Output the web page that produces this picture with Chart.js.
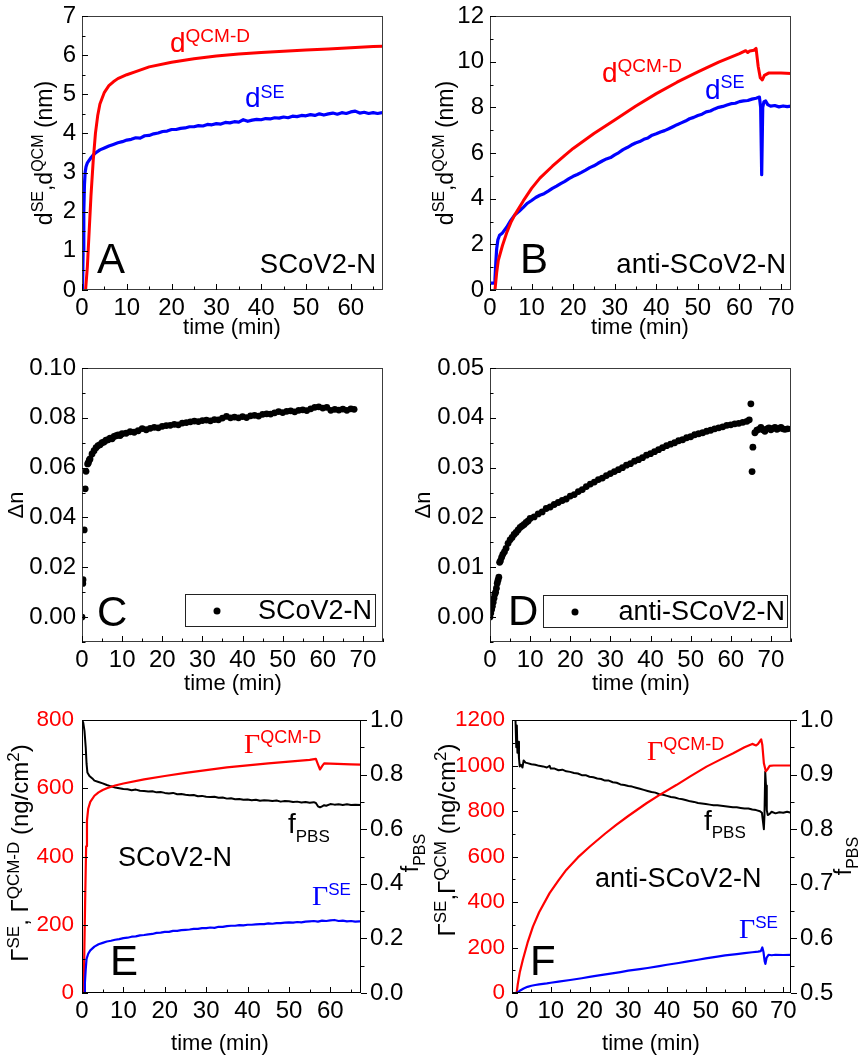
<!DOCTYPE html>
<html>
<head>
<meta charset="utf-8">
<title>Adsorption kinetics of SCoV2-N and anti-SCoV2-N</title>
<script src="https://cdn.jsdelivr.net/npm/chart.js@4.4.1/dist/chart.umd.min.js"></script>
<style>
  html, body { margin: 0; padding: 0; background: #fff; }
  body { width: 866px; height: 1061px; position: relative; overflow: hidden; }
  canvas { position: absolute; left: 0; top: 0; }
</style>
</head>
<body>
<canvas id="pA" width="866" height="1061"></canvas>
<canvas id="pB" width="866" height="1061"></canvas>
<canvas id="pC" width="866" height="1061"></canvas>
<canvas id="pD" width="866" height="1061"></canvas>
<canvas id="pE" width="866" height="1061"></canvas>
<canvas id="pF" width="866" height="1061"></canvas>
<script>
// ---------------- data ----------------
const sampleAntigen = 'SCoV2-N';
const sampleAntibody = 'anti-SCoV2-N';

// Panel A: layer thickness, SCoV2-N (nm vs min)
const tA_qcm = [0.8, 1.2, 1.6, 2.0, 2.5, 3.0, 3.5, 4.0, 5.0, 6.0, 7.0, 8.0, 10, 12, 15, 20, 25, 30, 35, 40, 45, 50, 55, 60, 65, 67.2];
const dA_qcm = [0, 0.6, 1.5, 2.4, 3.3, 4.0, 4.45, 4.75, 5.05, 5.22, 5.32, 5.40, 5.50, 5.58, 5.70, 5.82, 5.91, 5.98, 6.03, 6.07, 6.10, 6.13, 6.16, 6.19, 6.22, 6.23];
const tA_se = [0.1, 0.25, 0.4, 0.55, 0.7, 0.9, 1.2, 1.5, 2, 2.5, 3, 4, 5, 6, 7, 8, 9, 10,
  11, 12, 13, 14, 15, 16, 17, 18, 19, 20, 21, 22, 23, 24, 25, 26, 27, 28, 29, 30, 31, 32, 33, 34, 35, 36, 37, 38, 39,
  40, 41, 42, 43, 44, 45, 46, 47, 48, 49, 50, 51, 52, 53, 54, 55, 56, 57, 58, 59, 60, 61, 62, 63, 64, 65, 66, 67];
const dA_se = [0, 1.0, 2.0, 2.7, 3.0, 3.15, 3.25, 3.3, 3.38, 3.45, 3.5, 3.58, 3.63, 3.68, 3.72, 3.76, 3.79, 3.83,
  3.85, 3.89, 3.88, 3.94, 3.95, 3.99, 4.01, 4.05, 4.06, 4.10, 4.10, 4.13, 4.14, 4.17, 4.17, 4.20, 4.19, 4.23, 4.22, 4.25, 4.24, 4.28, 4.27, 4.30, 4.29, 4.35, 4.31, 4.34, 4.36,
  4.35, 4.38, 4.37, 4.40, 4.39, 4.42, 4.40, 4.44, 4.43, 4.46, 4.45, 4.48, 4.46, 4.50, 4.47, 4.50, 4.52, 4.49, 4.53, 4.51, 4.55, 4.57, 4.52, 4.54, 4.51, 4.53, 4.51, 4.53];

// Panel B: layer thickness, anti-SCoV2-N
const tB_qcm = [1.2, 1.6, 2, 3, 4, 5, 6, 8, 10, 12, 15, 18, 20, 25, 30, 35, 40, 45, 50, 55, 60, 61.5, 62, 62.5, 63.5, 64.0, 64.5, 65.0, 65.5, 66.0, 67, 70, 72.4];
const dB_qcm = [0, 0.75, 1.3, 1.95, 2.5, 2.95, 3.3, 3.9, 4.45, 4.9, 5.42, 5.9, 6.2, 6.85, 7.45, 8.05, 8.6, 9.1, 9.55, 9.98, 10.35, 10.48, 10.4, 10.47, 10.5, 10.58, 9.8, 9.3, 9.2, 9.4, 9.5, 9.5, 9.48];
const tB_se = [0, 1.0, 1.2, 1.4, 1.6, 1.9, 2.3, 3, 4, 5, 6, 7, 8, 9, 10,
  11, 12, 13, 14, 15, 16, 17, 18, 19, 20, 21, 22, 23, 24, 25, 26, 27, 28, 29, 30, 31, 32, 33, 34, 35, 36, 37,
  38, 39, 40, 41, 42, 43, 44, 45, 46, 47, 48, 49, 50, 51, 52, 53, 54, 55, 56, 57, 58, 59, 60, 61, 62, 63, 64,
  64.8, 65.1, 65.35, 65.6, 65.9, 66.3, 66.8, 67.5, 68.5, 69.5, 70.5, 71.5, 72.4];
const dB_se = [0.3, 0.3, 0.5, 1.2, 1.8, 2.2, 2.4, 2.5, 2.75, 3.05, 3.3, 3.45, 3.62, 3.8, 3.92,
  4.05, 4.15, 4.22, 4.33, 4.45, 4.55, 4.66, 4.76, 4.88, 4.98, 5.06, 5.15, 5.25, 5.36, 5.44, 5.55, 5.65, 5.74, 5.80, 5.92, 6.02, 6.15, 6.24, 6.35, 6.44, 6.50, 6.60,
  6.66, 6.78, 6.84, 6.92, 6.98, 7.06, 7.15, 7.24, 7.32, 7.40, 7.50, 7.56, 7.64, 7.70, 7.80, 7.84, 7.93, 8.00, 8.04, 8.10, 8.16, 8.18, 8.25, 8.28, 8.30, 8.36, 8.40,
  8.45, 8.0, 5.05, 8.0, 8.25, 8.28, 8.12, 8.05, 8.08, 8.02, 8.06, 8.03, 8.05];

// Panel C: refractive index increment, SCoV2-N
const tC = [0, 0.2, 0.25, 0.55, 0.8, 1.0, 1.4, 1.6, 1.8,
  2.0, 2.5, 3.0, 3.5, 4.0, 4.5, 5.0, 5.5, 6.0, 6.5, 7.0, 7.5, 8.0, 8.5, 9.0, 9.5,
  10, 11, 12, 13, 14, 15, 16, 17, 18, 19, 20, 21, 22, 23, 24, 25, 26, 27, 28, 29, 30, 31, 32, 33, 34, 35, 36, 37, 38, 39,
  40, 41, 42, 43, 44, 45, 46, 47, 48, 49, 50, 51, 52, 53, 54, 55, 56, 57, 58, 59, 60, 61, 62, 63, 64, 65, 66, 67, 67.8];
const nC = [0, 0.0135, 0.015, 0.035, 0.0515, 0.0585, 0.0615, 0.062, 0.063,
  0.0635, 0.0655, 0.0668, 0.0680, 0.0688, 0.0692, 0.0700, 0.0703, 0.0710, 0.0712, 0.0718, 0.0716, 0.0725, 0.0728, 0.0731, 0.0729,
  0.0736, 0.0738, 0.0744, 0.0742, 0.0748, 0.0757, 0.0752, 0.0758, 0.0762, 0.0760, 0.0766, 0.0769, 0.0770, 0.0774, 0.0772, 0.0779, 0.0781, 0.0784, 0.0787, 0.0785, 0.0789, 0.0791, 0.0788, 0.0793, 0.0792, 0.0799, 0.0806, 0.0800, 0.0803, 0.0800,
  0.0805, 0.0801, 0.0808, 0.0810, 0.0807, 0.0814, 0.0816, 0.0815, 0.0820, 0.0825, 0.0821, 0.0826, 0.0828, 0.0824, 0.0830, 0.0832, 0.0829, 0.0836, 0.0842, 0.0844, 0.0839, 0.0842, 0.0830, 0.0834, 0.0831, 0.0835, 0.0830, 0.0836, 0.0834];

// Panel D: refractive index increment, anti-SCoV2-N
const tD = [0, 0.2, 0.4, 0.6, 0.8, 1.0, 1.2, 1.4, 1.6, 1.8, 2.0, 2.2, 2.4, 2.6, 2.9, 3.2, 3.6, 4.0, 4.5, 5, 5.5, 6, 6.5, 7, 7.5, 8, 8.5, 9, 9.5, 10,
  11, 12, 13, 14, 15, 16, 17, 18, 19, 20, 21, 22, 23, 24, 25, 26, 27, 28, 29, 30, 31, 32, 33, 34, 35, 36, 37,
  38, 39, 40, 41, 42, 43, 44, 45, 46, 47, 48, 49, 50, 51, 52, 53, 54, 55, 56, 57, 58, 59, 60, 61, 62, 63, 64,
  64.6, 65.0, 65.3, 65.5, 66.0, 66.5, 67.0, 67.5, 68, 68.5, 69, 69.5, 70, 70.5, 71, 71.5, 72, 72.5, 73, 73.5, 74.2];
const nD = [0.0000, 0.0008, 0.0015, 0.0022, 0.0030, 0.0038, 0.0046, 0.0050, 0.0058, 0.0068, 0.0074, 0.0080, 0.0110, 0.0113, 0.0120, 0.0126, 0.0131, 0.0138, 0.0148, 0.0155, 0.0160, 0.0166, 0.0170, 0.0175, 0.0180, 0.0183, 0.0186, 0.0190, 0.0193, 0.0198,
  0.0201, 0.0207, 0.0211, 0.0218, 0.0221, 0.0226, 0.0230, 0.0234, 0.0237, 0.0243, 0.0246, 0.0252, 0.0256, 0.0262, 0.0267, 0.0271, 0.0276, 0.0279, 0.0284, 0.0288, 0.0292, 0.0296, 0.0300, 0.0305, 0.0308, 0.0313, 0.0316,
  0.0320, 0.0325, 0.0328, 0.0332, 0.0336, 0.0340, 0.0344, 0.0347, 0.0350, 0.0354, 0.0356, 0.0360, 0.0362, 0.0366, 0.0368, 0.0370, 0.0373, 0.0375, 0.0378, 0.0380, 0.0382, 0.0385, 0.0386, 0.0388, 0.0389, 0.0391, 0.0393,
  0.0396, 0.0428, 0.0292, 0.0341, 0.0370, 0.0375, 0.0377, 0.0381, 0.0376, 0.0373, 0.0378, 0.0380, 0.0376, 0.0379, 0.0381, 0.0377, 0.0379, 0.0381, 0.0378, 0.0377, 0.0378];

// Panel E: surface mass and PBS fraction, SCoV2-N
const tE_qcm = [0.4, 0.6, 0.8, 1.0, 1.2, 1.5, 2, 3, 4, 5, 6, 8, 10, 15, 20, 25, 30, 35, 40, 45, 50, 55, 56.5, 57.0, 57.5, 58.0, 58.5, 60, 65, 67.4];
const gE_qcm = [0, 150, 300, 430, 505, 540, 560, 578, 588, 595, 600, 608, 614, 626, 636, 645, 653, 661, 667, 673, 678, 683, 686, 670, 655, 665, 673, 672, 670, 669];
const tE_se = [0.5, 0.7, 0.9, 1.1, 1.5, 2, 3, 4, 5, 6,
  7, 8, 9, 10, 11, 12, 13, 14, 15, 16, 17, 18, 19, 20, 21, 22, 23, 24, 25, 26, 27, 28, 29, 30, 31, 32, 33, 34, 35, 36, 37,
  38, 39, 40, 41, 42, 43, 44, 45, 46, 47, 48, 49, 50, 51, 52, 53, 54, 55, 56, 57, 58, 59, 60, 61, 62, 63, 64, 65, 66, 67, 67.4];
const gE_se = [0, 30, 70, 100, 115, 125, 136, 143, 147, 151,
  153, 156, 158, 161, 162, 165, 166, 169, 170, 172, 173, 176, 177, 179, 179, 182, 182, 184, 185, 186, 188, 188, 190, 190, 192, 191, 194, 194, 196, 197, 197,
  199, 198, 200, 200, 201, 202, 202, 204, 203, 205, 205, 206, 207, 206, 208, 207, 209, 210, 211, 209, 212, 211, 213, 214, 211, 212, 210, 211, 209, 210, 210];
const tE_pbs = [0, 0.3, 0.6, 0.9, 1.1, 1.3, 1.8, 2.5, 3, 4, 5, 6, 7, 8, 9, 10, 11, 12, 13, 14, 15, 16, 17, 18, 19, 20, 21, 22, 23, 24, 25, 26, 27, 28, 29,
  30, 31, 32, 33, 34, 35, 36, 37, 38, 39, 40, 41, 42, 43, 44, 45, 46, 47, 48, 49, 50, 51, 52, 53, 54, 55, 56, 56.5, 57.0, 57.5, 58, 58.5, 59, 60, 61, 62, 63, 64, 65, 66, 67.4];
const fE_pbs = [1.0, 0.99, 0.96, 0.90, 0.84, 0.808, 0.795, 0.786, 0.778, 0.773, 0.768, 0.762, 0.757, 0.753, 0.750, 0.747, 0.746, 0.743, 0.745, 0.741, 0.740, 0.738, 0.739, 0.735, 0.736, 0.733, 0.731, 0.733, 0.728, 0.729, 0.726, 0.724, 0.725, 0.721, 0.722,
  0.719, 0.718, 0.719, 0.715, 0.716, 0.712, 0.713, 0.710, 0.711, 0.708, 0.709, 0.706, 0.708, 0.704, 0.706, 0.705, 0.703, 0.705, 0.701, 0.703, 0.702, 0.700, 0.701, 0.698, 0.700, 0.697, 0.699, 0.696, 0.684, 0.680, 0.684, 0.688, 0.686, 0.692, 0.690, 0.691, 0.689, 0.691, 0.689, 0.690, 0.689];

// Panel F: surface mass and PBS fraction, anti-SCoV2-N
const tF_qcm = [1.2, 1.5, 2, 2.8, 4, 5.4, 7, 9.7, 12, 14, 17, 20.1, 24, 26.9, 30, 34.7, 38, 42.4, 46, 50.2, 54, 57.1, 60, 62, 63, 63.5, 64.3, 64.6, 65, 65.5, 66, 66.5, 67.5, 72];
const gF_qcm = [0, 40, 90, 146, 220, 292, 355, 439, 495, 541, 596, 644, 700, 739, 778, 834, 870, 914, 952, 995, 1028, 1054, 1080, 1095, 1088, 1095, 1115, 1090, 1010, 975, 985, 998, 1000, 1000];
const tF_se = [0, 1.0, 1.5, 2, 3, 4, 5, 6, 7, 8, 9, 10, 12, 15, 18, 20, 22, 25, 28, 30, 33, 35, 38, 40, 43, 45, 48, 50, 53, 55, 58, 60, 62, 63.5, 64.2, 64.6, 64.9, 65.2, 65.4, 65.7, 66.2, 67, 68, 70, 72];
const gF_se = [0, 0, 3, 10, 20, 27, 32, 35, 38, 40, 42, 45, 50, 57, 65, 71, 76, 84, 92, 98, 105, 110, 118, 124, 132, 138, 146, 152, 160, 165, 171, 175, 179, 182, 184, 200, 180, 140, 128, 155, 168, 166, 168, 167, 168];
const tF_pbs = [0.9, 1.1, 1.25, 1.4, 1.6, 1.8, 2.0, 2.3, 2.7, 3.0, 3.5, 4, 5, 6, 7, 8, 9, 9.7, 10,
  11, 12, 13, 14, 15, 16, 17, 18, 19, 20, 21, 22, 23, 24, 25, 26, 27, 28, 29, 30, 31, 32, 33, 34, 35, 36, 37,
  38, 39, 40, 41, 42, 43, 44, 45, 46, 47, 48, 49, 50, 51, 52, 53, 54, 55, 56, 57, 58, 59, 60, 61, 62, 63, 64,
  64.5, 64.8, 65.0, 65.15, 65.35, 65.55, 65.75, 66.0, 66.5, 67, 68, 69, 70, 71, 72];
const fF_pbs = [1.0, 0.95, 0.99, 0.94, 0.96, 0.93, 0.915, 0.918, 0.913, 0.926, 0.922, 0.921, 0.919, 0.918, 0.916, 0.915, 0.913, 0.916, 0.911,
  0.911, 0.908, 0.909, 0.906, 0.905, 0.903, 0.902, 0.899, 0.899, 0.896, 0.895, 0.893, 0.892, 0.889, 0.889, 0.886, 0.885, 0.882, 0.881, 0.879, 0.878, 0.876, 0.874, 0.872, 0.870, 0.868, 0.867,
  0.864, 0.863, 0.861, 0.859, 0.858, 0.856, 0.855, 0.853, 0.851, 0.850, 0.848, 0.847, 0.846, 0.845, 0.844, 0.844, 0.843, 0.842, 0.841, 0.840, 0.840, 0.839, 0.838, 0.838, 0.836, 0.835, 0.833,
  0.830, 0.812, 0.800, 0.825, 0.905, 0.880, 0.835, 0.826, 0.828, 0.832, 0.829, 0.831, 0.830, 0.832, 0.830];

// Tick labels
const ticksTimeA = ['0', '10', '20', '30', '40', '50', '60'];
const ticksTime70 = ['0', '10', '20', '30', '40', '50', '60', '70'];
const ticksDA = ['0', '1', '2', '3', '4', '5', '6', '7'];
const ticksDB = ['0', '2', '4', '6', '8', '10', '12'];
const ticksNC = ['0.00', '0.02', '0.04', '0.06', '0.08', '0.10'];
const ticksND = ['0.00', '0.01', '0.02', '0.03', '0.04', '0.05'];
const ticksGE = ['0', '200', '400', '600', '800'];
const ticksGF = ['0', '200', '400', '600', '800', '1000', '1200'];
const ticksPbsE = ['0.0', '0.2', '0.4', '0.6', '0.8', '1.0'];
const ticksPbsF = ['0.5', '0.6', '0.7', '0.8', '0.9', '1.0'];

// ---------------- drawing helpers ----------------
const W = 866, H = 1061;
const SANS = '"Liberation Sans", Arial, Helvetica, sans-serif';
const SERIF = '"Liberation Serif", "Times New Roman", serif';
const RED = '#ff0000', BLUE = '#0000ff', BLACK = '#000000';

const pts = (xs, ys) => xs.map((x, i) => ({ x, y: ys[i] }));
const P = (t, size, dy = 0, family = SANS) => ({ t, size, dy, family });

function axis(min, max, labels, position, o = {}) {
  return {
    type: 'linear', min, max, position,
    grid: { display: false, drawTicks: false },
    border: { display: false },
    ticks: {
      autoSkip: false, maxRotation: 0, minRotation: 0,
      padding: o.padding ?? 6,
      color: o.color || BLACK,
      font: { family: SANS, size: o.size || 24 },
      callback: (v, i) => labels[i]
    },
    afterBuildTicks: s => { s.ticks = labels.map(l => ({ value: parseFloat(l) })); }
  };
}

function drawTicks(ctx, chart, t) {
  const s = chart.scales[t.axis], a = chart.chartArea;
  const marks = s.ticks.map(k => ({ v: k.value, len: 6 }));
  if (t.minor) {
    const k0 = Math.ceil(s.min / t.minor - 1e-6), k1 = Math.floor(s.max / t.minor + 1e-6);
    for (let k = k0; k <= k1; k++) {
      const v = k * t.minor;
      if (!marks.some(m => Math.abs(m.v - v) < t.minor * 1e-3)) marks.push({ v, len: 3.5 });
    }
  }
  ctx.strokeStyle = t.color || BLACK;
  ctx.lineWidth = 1;
  ctx.beginPath();
  for (const m of marks) {
    const p = Math.round(s.getPixelForValue(m.v)) + 0.5;
    if (t.side === 'bottom') { ctx.moveTo(p, a.bottom); ctx.lineTo(p, a.bottom - m.len); }
    else if (t.side === 'left') { ctx.moveTo(a.left, p); ctx.lineTo(a.left + m.len, p); }
    else { ctx.moveTo(a.right, p); ctx.lineTo(a.right + m.len, p); }
  }
  ctx.stroke();
}

function rich(ctx, item) {
  ctx.save();
  ctx.translate(item.x, item.y);
  if (item.rot) ctx.rotate(item.rot);
  ctx.textBaseline = 'alphabetic';
  ctx.textAlign = 'left';
  let total = 0;
  const widths = item.parts.map(p => { ctx.font = `${p.size}px ${p.family}`; const w = ctx.measureText(p.t).width; total += w; return w; });
  let x = item.align === 'center' ? -total / 2 : item.align === 'right' ? -total : 0;
  item.parts.forEach((p, i) => {
    ctx.font = `${p.size}px ${p.family}`;
    ctx.fillStyle = p.color || item.color || BLACK;
    ctx.fillText(p.t, x, p.dy);
    x += widths[i];
  });
  ctx.restore();
}

function decoPlugin(cfg) {
  return {
    id: 'deco' + cfg.name,
    afterDatasetsDraw(chart) {
      const ctx = chart.ctx, a = chart.chartArea;
      ctx.save();
      ctx.strokeStyle = cfg.frame;
      ctx.lineWidth = 1;
      ctx.strokeRect(Math.round(a.left) + 0.5, Math.round(a.top) + 0.5,
        Math.round(a.right - a.left) - 1, Math.round(a.bottom - a.top) - 1);
      cfg.ticks.forEach(t => drawTicks(ctx, chart, t));
      if (cfg.legend) {
        const L = cfg.legend;
        ctx.strokeStyle = '#222';
        ctx.strokeRect(L.x + 0.5, L.y + 0.5, L.w, L.h);
        ctx.fillStyle = BLACK;
        ctx.beginPath(); ctx.arc(L.dotX, L.y + L.h / 2 + 1, 3.5, 0, Math.PI * 2); ctx.fill();
        ctx.font = `27px ${SANS}`;
        ctx.textAlign = 'right'; ctx.textBaseline = 'alphabetic';
        ctx.fillText(chart.data.datasets[0].label, L.textX, L.textY);
      }
      ctx.restore();
    },
    afterDraw(chart) { cfg.texts.forEach(t => rich(chart.ctx, t)); }
  };
}

// Each panel draws on a full-page canvas; the axis boxes are sized so that the
// plot area lands exactly on the requested rectangle.
function panel(id, area, scales, datasets, deco) {
  const list = Object.values(scales);
  const hasRight = list.some(s => s.position === 'right');
  list.forEach(s => {
    const size = s.position === 'left' ? area.l : s.position === 'right' ? W - area.r : H - area.b;
    s.afterFit = sc => {
      if (sc.isHorizontal()) { sc.height = size; sc.paddingLeft = 0; sc.paddingRight = 0; }
      else { sc.width = size; sc.paddingTop = 0; sc.paddingBottom = 0; }
    };
  });
  return new Chart(document.getElementById(id), {
    type: 'scatter',
    data: { datasets },
    options: {
      responsive: false, animation: false, events: [],
      layout: { padding: { left: 0, top: area.t, right: hasRight ? 0 : W - area.r, bottom: 0 } },
      scales,
      plugins: { legend: { display: false }, tooltip: { enabled: false } }
    },
    plugins: [decoPlugin(deco)]
  });
}

const line = (label, data, color, width, yAxisID = 'y') => ({
  label, data, showLine: true, borderColor: color, borderWidth: width,
  pointRadius: 0, tension: 0, borderJoinStyle: 'round', yAxisID
});
const dots = (label, data) => ({
  label, data, showLine: false, pointRadius: 3.4, pointBackgroundColor: BLACK,
  pointBorderWidth: 0, pointBorderColor: BLACK
});

const timeTitle = (x, y) => ({ x, y, align: 'center', parts: [P('time (min)', 22)] });
const rotL = -Math.PI / 2;
const dTitle = (x, y) => ({ x, y, rot: rotL, align: 'center',
  parts: [P('d', 23), P('SE', 16, -9), P(',', 23), P('d', 23), P('QCM', 16, -9), P(' (nm)', 23)] });
const nTitle = (x, y) => ({ x, y, rot: rotL, align: 'center', parts: [P('\u0394n', 22)] });
const pbsTitle = (x, y) => ({ x, y, rot: rotL, align: 'center', parts: [P('f', 23), P('PBS', 16, 7)] });

// ---------------- A ----------------
panel('pA', { l: 82, r: 383, t: 16, b: 290 },
  { x: axis(0, 67.2, ticksTimeA, 'bottom', { padding: 4 }), y: axis(0, 7, ticksDA, 'left') },
  [line('d QCM-D', pts(tA_qcm, dA_qcm), RED, 3), line('d SE', pts(tA_se, dA_se), BLUE, 3.2)],
  { name: 'A', frame: '#3c3c3c',
    ticks: [{ axis: 'x', side: 'bottom', minor: 5 }, { axis: 'y', side: 'left', minor: 0.5 }],
    texts: [
      dTitle(52, 153), timeTitle(232, 334),
      { x: 170, y: 52, color: RED, parts: [P('d', 28), P('QCM-D', 19, -10)] },
      { x: 245, y: 107, color: BLUE, parts: [P('d', 28), P('SE', 18, -9)] },
      { x: 97, y: 273, parts: [P('A', 42)] },
      { x: 376, y: 273, align: 'right', parts: [P(sampleAntigen, 27.5)] }
    ] });

// ---------------- B ----------------
panel('pB', { l: 490, r: 791, t: 16, b: 290 },
  { x: axis(0, 72.4, ticksTime70, 'bottom', { padding: 4 }), y: axis(0, 12, ticksDB, 'left') },
  [line('d QCM-D', pts(tB_qcm, dB_qcm), RED, 3), line('d SE', pts(tB_se, dB_se), BLUE, 3.2)],
  { name: 'B', frame: '#3c3c3c',
    ticks: [{ axis: 'x', side: 'bottom', minor: 5 }, { axis: 'y', side: 'left', minor: 1 }],
    texts: [
      dTitle(453, 153), timeTitle(640, 334),
      { x: 602, y: 82, color: RED, parts: [P('d', 28), P('QCM-D', 19, -10)] },
      { x: 705, y: 99, color: BLUE, parts: [P('d', 28), P('SE', 18, -11)] },
      { x: 520, y: 273, parts: [P('B', 42)] },
      { x: 786, y: 273, align: 'right', parts: [P(sampleAntibody, 27.5)] }
    ] });

// ---------------- C ----------------
panel('pC', { l: 82, r: 383, t: 368, b: 642 },
  { x: axis(0, 75, ticksTime70, 'bottom', { padding: 4 }), y: axis(-0.01, 0.10, ticksNC, 'left') },
  [dots(sampleAntigen, pts(tC, nC))],
  { name: 'C', frame: '#3c3c3c',
    ticks: [{ axis: 'x', side: 'bottom', minor: 5 }, { axis: 'y', side: 'left', minor: 0.01 }],
    legend: { x: 185, y: 594, w: 190, h: 32, dotX: 217, textX: 372, textY: 619 },
    texts: [
      nTitle(23, 505), timeTitle(233, 690),
      { x: 97, y: 626, parts: [P('C', 42)] }
    ] });

// ---------------- D ----------------
panel('pD', { l: 490, r: 791, t: 368, b: 642 },
  { x: axis(0, 75, ticksTime70, 'bottom', { padding: 4 }), y: axis(-0.005, 0.05, ticksND, 'left') },
  [dots(sampleAntibody, pts(tD, nD))],
  { name: 'D', frame: '#3c3c3c',
    ticks: [{ axis: 'x', side: 'bottom', minor: 5 }, { axis: 'y', side: 'left', minor: 0.005 }],
    legend: { x: 543, y: 595, w: 244, h: 32, dotX: 575, textX: 785, textY: 620 },
    texts: [
      nTitle(430, 505), timeTitle(641, 690),
      { x: 508, y: 625, parts: [P('D', 42)] }
    ] });

// ---------------- E ----------------
panel('pE', { l: 82, r: 361, t: 720, b: 993 },
  { x: axis(0, 67.4, ticksTimeA, 'bottom', { padding: 4 }),
    y: axis(0, 800, ticksGE, 'left', { color: RED, padding: 8, size: 22.5 }),
    y2: axis(0, 1.0, ticksPbsE, 'right', { padding: 9 }) },
  [line('\u0393 SE', pts(tE_se, gE_se), BLUE, 2.2),
   line('\u0393 QCM-D', pts(tE_qcm, gE_qcm), RED, 2.2),
   line('f PBS', pts(tE_pbs, fE_pbs), BLACK, 2, 'y2')],
  { name: 'E', frame: BLACK,
    ticks: [{ axis: 'x', side: 'bottom', minor: 5 }, { axis: 'y', side: 'left', minor: 100 },
            { axis: 'y2', side: 'right', minor: 0.1 }],
    texts: [
      { x: 28, y: 853, rot: rotL, align: 'center',
        parts: [P('\u0393', 24), P('SE', 17, -9), P(', ', 24), P('\u0393', 24), P('QCM-D', 17, -9), P(' (ng/cm', 24), P('2', 17, -9), P(')', 24)] },
      pbsTitle(418, 853), timeTitle(220, 1050),
      { x: 244, y: 753, color: RED, parts: [P('\u0393', 28, 0, SERIF), P('QCM-D', 18, -10)] },
      { x: 288, y: 833, parts: [P('f', 28), P('PBS', 17, 9)] },
      { x: 118, y: 866, parts: [P(sampleAntigen, 27)] },
      { x: 312, y: 905, color: BLUE, parts: [P('\u0393', 28, 0, SERIF), P('SE', 17, -10)] },
      { x: 110, y: 975, parts: [P('E', 42)] }
    ] });

// ---------------- F ----------------
panel('pF', { l: 512, r: 791, t: 720, b: 993 },
  { x: axis(0, 72, ticksTime70, 'bottom', { padding: 4 }),
    y: axis(0, 1200, ticksGF, 'left', { color: RED, padding: 7, size: 22.5 }),
    y2: axis(0.5, 1.0, ticksPbsF, 'right', { padding: 9 }) },
  [line('\u0393 SE', pts(tF_se, gF_se), BLUE, 2.2),
   line('\u0393 QCM-D', pts(tF_qcm, gF_qcm), RED, 2.2),
   line('f PBS', pts(tF_pbs, fF_pbs), BLACK, 2, 'y2')],
  { name: 'F', frame: BLACK,
    ticks: [{ axis: 'x', side: 'bottom', minor: 5 }, { axis: 'y', side: 'left', minor: 100 },
            { axis: 'y2', side: 'right', minor: 0.05 }],
    texts: [
      { x: 455, y: 840, rot: rotL, align: 'center',
        parts: [P('\u0393', 24), P('SE', 17, -9), P(',', 24), P('\u0393', 24), P('QCM', 17, -9), P(' (ng/cm', 24), P('2', 17, -9), P(')', 24)] },
      pbsTitle(851, 856), timeTitle(651, 1050),
      { x: 647, y: 760, color: RED, parts: [P('\u0393', 28, 0, SERIF), P('QCM-D', 18, -10)] },
      { x: 704, y: 830, parts: [P('f', 28), P('PBS', 17, 8)] },
      { x: 595, y: 887, parts: [P(sampleAntibody, 27)] },
      { x: 739, y: 938, color: BLUE, parts: [P('\u0393', 28, 0, SERIF), P('SE', 17, -10)] },
      { x: 530, y: 975, parts: [P('F', 42)] }
    ] });
</script>
</body>
</html>
